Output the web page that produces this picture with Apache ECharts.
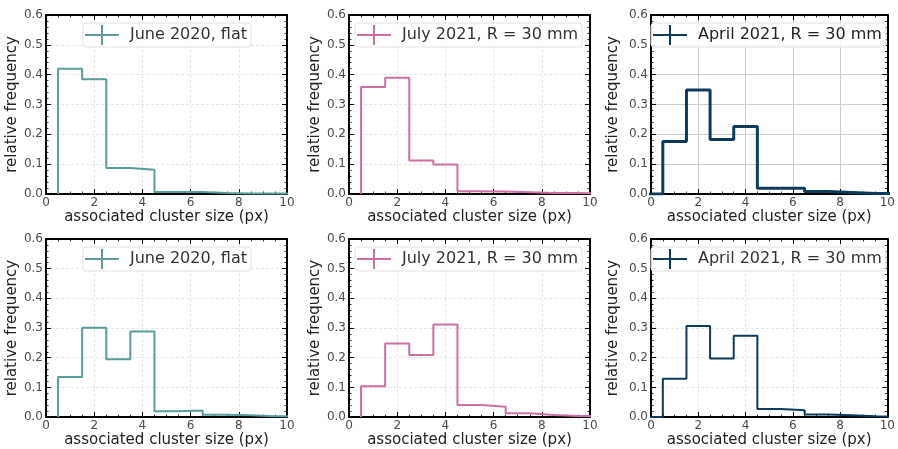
<!DOCTYPE html>
<html>
<head>
<meta charset="utf-8">
<script src="https://cdn.jsdelivr.net/npm/echarts@6/dist/echarts.min.js"></script>
<style>
  html, body { margin: 0; padding: 0; background: #fff; }
  #main { width: 898px; height: 449px; }
</style>
</head>
<body>
<div id="main"></div>
<script>
// bin centres (px); April runs include the empty 0 bin
var binCenters = [1, 2, 3, 4, 5, 6, 7, 8, 9, 10];
var aprilCenters = [0, 1, 2, 3, 4, 5, 6, 7, 8, 9, 10];

var juneTop = [0.420, 0.385, 0.087, 0.081, 0.007, 0.007, 0.003, 0.002, 0.002, 0.001];
var julyTop = [0.359, 0.390, 0.112, 0.099, 0.009, 0.008, 0.006, 0.003, 0.003, 0.002];
var aprilTop = [0, 0.176, 0.349, 0.183, 0.226, 0.019, 0.019, 0.008, 0.005, 0.002, 0.001];
var juneBottom = [0.135, 0.301, 0.195, 0.288, 0.020, 0.022, 0.008, 0.006, 0.003, 0.002];
var julyBottom = [0.104, 0.248, 0.209, 0.312, 0.041, 0.035, 0.013, 0.007, 0.004, 0.003];
var aprilBottom = [0, 0.129, 0.307, 0.197, 0.274, 0.027, 0.023, 0.009, 0.006, 0.003, 0.002];

var xTicks = [0, 2, 4, 6, 8, 10];
var yTicks = [0.0, 0.1, 0.2, 0.3, 0.4, 0.5, 0.6];

var panels = [
  { name: 'June 2020, flat', centers: binCenters, values: juneTop, color: '#5a9c9c', col: 0, row: 0 },
  { name: 'July 2021, R = 30 mm', centers: binCenters, values: julyTop, color: '#cc6fa3', col: 1, row: 0 },
  { name: 'April 2021, R = 30 mm', centers: aprilCenters, values: aprilTop, color: '#0e3a5a', col: 2, row: 0, bold: true },
  { name: 'June 2020, flat', centers: binCenters, values: juneBottom, color: '#5a9c9c', col: 0, row: 1 },
  { name: 'July 2021, R = 30 mm', centers: binCenters, values: julyBottom, color: '#cc6fa3', col: 1, row: 1 },
  { name: 'April 2021, R = 30 mm', centers: aprilCenters, values: aprilBottom, color: '#0e3a5a', col: 2, row: 1 }
];

var colLeft = [46, 349, 651];
var colWidth = [241, 241, 242];
var rowTop = [15, 239];
var gridH = 179;
var yNameGap = [18, 23, 30];
var legendLeft = [83, 355, 651];

var font = 'DejaVu Sans, sans-serif';
var chart = echarts.init(document.getElementById('main'));

// step outline: rise at left edge of first bin, then one flat top per bin
function stepData(centers, values) {
  var pts = [[centers[0] - 0.5, 0]];
  for (var i = 0; i < values.length; i++) pts.push([centers[i] - 0.5, values[i]]);
  pts.push([centers[centers.length - 1] + 0.5, values[values.length - 1]]);
  return pts;
}

var grids = [], xAxes = [], yAxes = [], series = [], legends = [];
var plusIcon = 'path://M0,9 L34,9 L34,11 L0,11 Z M16,0 L18,0 L18,20 L16,20 Z M40,10 L40,10.01 L40.01,10 Z';

panels.forEach(function (p, i) {
  var strong = p.bold;
  grids.push({ left: colLeft[p.col], top: rowTop[p.row], width: colWidth[p.col], height: gridH });
  var split = strong
    ? { show: true, lineStyle: { color: '#cccccc', width: 1, type: 'solid' } }
    : { show: true, lineStyle: { color: '#e0e0e0', width: 0.8, type: [3, 2] } };
  var frame = { show: true, onZero: false, lineStyle: { color: '#000', width: 2 } };
  var tick = { show: true, inside: true, length: 5, lineStyle: { color: '#000', width: 1 } };
  var minor = function (n) { return { show: true, splitNumber: n, length: 2.5, lineStyle: { color: '#000', width: 0.8 } }; };

  xAxes.push({
    gridIndex: i, type: 'value', min: xTicks[0], max: xTicks[xTicks.length - 1], interval: 2,
    position: 'bottom',
    name: 'associated cluster size (px)', nameLocation: 'middle', nameGap: 14,
    nameTextStyle: { fontFamily: font, fontSize: 15, color: '#222' },
    axisLine: frame, axisTick: tick, minorTick: minor(4),
    axisLabel: { fontFamily: font, fontSize: 12, color: '#4a4a4a', margin: 3 },
    splitLine: split
  });
  xAxes.push({
    gridIndex: i, type: 'value', min: xTicks[0], max: xTicks[xTicks.length - 1], interval: 2,
    position: 'top', axisLine: frame, axisTick: tick, minorTick: minor(4),
    axisLabel: { show: false }, splitLine: { show: false }
  });
  yAxes.push({
    gridIndex: i, type: 'value', min: yTicks[0], max: yTicks[yTicks.length - 1], interval: 0.1,
    position: 'left',
    name: 'relative frequency', nameLocation: 'middle', nameGap: yNameGap[p.col],
    nameTextStyle: { fontFamily: font, fontSize: 15, color: '#222' },
    axisLine: frame, axisTick: tick, minorTick: minor(5),
    axisLabel: { fontFamily: font, fontSize: 12, color: '#4a4a4a', margin: 3,
      formatter: function (v) { return v.toFixed(1); } },
    splitLine: split
  });
  yAxes.push({
    gridIndex: i, type: 'value', min: yTicks[0], max: yTicks[yTicks.length - 1], interval: 0.1,
    position: 'right', axisLine: frame, axisTick: tick, minorTick: minor(5),
    axisLabel: { show: false }, splitLine: { show: false }
  });

  series.push({
    type: 'line', name: p.name, step: 'end',
    xAxisIndex: 2 * i, yAxisIndex: 2 * i,
    data: stepData(p.centers, p.values),
    showSymbol: false, symbol: 'none', clip: true,
    color: p.color,
    lineStyle: { color: p.color, width: strong ? 3 : 2 },
    emphasis: { disabled: true },
    z: 5
  });

  legends.push({
    data: [{ name: p.name, icon: plusIcon }],
    left: legendLeft[p.col], top: rowTop[p.row] + 8,
    orient: 'horizontal', padding: [2, 4, 2, 2],
    itemWidth: 40, itemHeight: 20,
    backgroundColor: 'rgba(255,255,255,0.85)',
    borderColor: '#e2e2e2', borderWidth: 1, borderRadius: 3,
    selectedMode: false,
    textStyle: { fontFamily: font, fontSize: 16, color: strong ? '#222' : '#333' }
  });
});

chart.setOption({
  animation: false,
  backgroundColor: '#fff',
  grid: grids,
  xAxis: xAxes,
  yAxis: yAxes,
  legend: legends,
  series: series
});
</script>
</body>
</html>
